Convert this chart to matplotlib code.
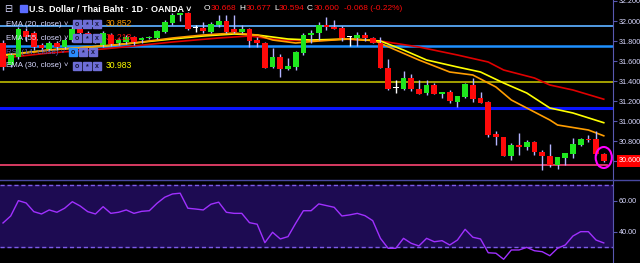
import matplotlib
matplotlib.use('Agg')
import matplotlib.pyplot as plt
from matplotlib.patches import Rectangle, Ellipse
from matplotlib.lines import Line2D
import numpy as np

plt.rcParams['font.family'] = ['Liberation Sans', 'DejaVu Sans']

# USD/THB daily candles
opens = [31.78, 31.56, 31.64, 31.90, 31.88, 31.76, 31.72, 31.78, 31.74, 31.81,
         31.92, 31.88, 31.84, 31.76, 31.86, 31.78, 31.79, 31.84, 31.81, 31.83,
         31.83, 31.89, 31.98, 32.06, 32.08, 31.93, 31.93, 31.89, 31.96, 32.00,
         31.92, 31.89, 31.92, 31.81, 31.78, 31.54, 31.64, 31.52, 31.54, 31.68,
         31.86, 31.88, 31.96, 31.94, 31.93, 31.84, 31.83, 31.86, 31.83, 31.78,
         31.53, 31.33, 31.32, 31.43, 31.32, 31.28, 31.36, 31.27, 31.29, 31.19,
         31.24, 31.36, 31.23, 31.19, 30.87, 30.84, 30.65, 30.76, 30.74, 30.79,
         30.69, 30.65, 30.56, 30.63, 30.67, 30.76, 30.82, 30.82, 30.668]
highs = [31.81, 31.68, 31.94, 31.93, 31.90, 31.78, 31.80, 31.80, 31.83, 31.95,
         31.94, 31.90, 31.86, 31.90, 31.88, 31.83, 31.86, 31.85, 31.84, 31.85,
         31.91, 32.01, 32.08, 32.08, 32.09, 31.96, 31.99, 31.99, 32.06, 32.06,
         32.06, 31.96, 31.93, 31.84, 31.79, 31.73, 31.67, 31.63, 31.70, 31.88,
         31.91, 31.99, 32.04, 32.01, 31.95, 31.85, 31.89, 31.89, 31.84, 31.84,
         31.62, 31.41, 31.50, 31.47, 31.41, 31.41, 31.38, 31.29, 31.31, 31.25,
         31.38, 31.43, 31.29, 31.20, 30.90, 30.84, 30.78, 30.88, 30.81, 30.80,
         30.71, 30.77, 30.64, 30.68, 30.83, 30.83, 30.86, 30.90, 30.677]
lows = [31.51, 31.54, 31.62, 31.80, 31.71, 31.70, 31.70, 31.71, 31.72, 31.79,
        31.85, 31.82, 31.78, 31.74, 31.75, 31.76, 31.77, 31.76, 31.78, 31.82,
        31.82, 31.88, 31.96, 32.00, 31.91, 31.89, 31.88, 31.88, 31.94, 31.88,
        31.88, 31.88, 31.74, 31.74, 31.53, 31.53, 31.44, 31.51, 31.51, 31.66,
        31.78, 31.81, 31.91, 31.92, 31.80, 31.75, 31.75, 31.80, 31.78, 31.53,
        31.31, 31.28, 31.31, 31.30, 31.27, 31.26, 31.27, 31.23, 31.18, 31.14,
        31.23, 31.19, 31.18, 30.84, 30.76, 30.65, 30.61, 30.66, 30.71, 30.66,
        30.51, 30.54, 30.52, 30.56, 30.63, 30.75, 30.79, 30.66, 30.594]
closes = [31.54, 31.66, 31.92, 31.84, 31.74, 31.73, 31.78, 31.74, 31.81, 31.92,
          31.88, 31.84, 31.80, 31.88, 31.77, 31.81, 31.84, 31.79, 31.83, 31.84,
          31.90, 31.99, 32.06, 32.08, 31.92, 31.93, 31.90, 31.97, 32.00, 31.89,
          31.89, 31.92, 31.80, 31.78, 31.53, 31.64, 31.52, 31.55, 31.69, 31.86,
          31.88, 31.96, 31.94, 31.92, 31.83, 31.84, 31.86, 31.83, 31.78, 31.53,
          31.32, 31.33, 31.43, 31.32, 31.27, 31.36, 31.27, 31.29, 31.20, 31.25,
          31.37, 31.22, 31.18, 30.86, 30.84, 30.65, 30.76, 30.74, 30.79, 30.69,
          30.65, 30.56, 30.64, 30.68, 30.77, 30.82, 30.81, 30.67, 30.600]

# EMA lines, sampled at candle index
ema20_idx = [0, 6, 13, 17, 22, 26, 30, 33, 35, 38, 41, 45, 48, 51, 54, 58, 61, 64, 66, 68, 71, 72, 76, 78]
ema20 = [31.65, 31.71, 31.75, 31.78, 31.83, 31.86, 31.88, 31.86, 31.81, 31.78, 31.80, 31.82,
         31.81, 31.71, 31.61, 31.49, 31.46, 31.34, 31.21, 31.13, 31.01, 30.96, 30.91, 30.852]
ema30_idx = [0, 6, 13, 17, 22, 26, 30, 33, 37, 40, 45, 49, 52, 55, 59, 62, 65, 68, 71, 74, 78]
ema30 = [31.66, 31.71, 31.75, 31.78, 31.82, 31.85, 31.87, 31.86, 31.82, 31.81, 31.82,
         31.80, 31.71, 31.61, 31.54, 31.49, 31.38, 31.28, 31.13, 31.08, 30.983]
ema55_idx = [0, 6, 13, 17, 22, 28, 32, 36, 40, 44, 49, 54, 59, 63, 65, 69, 71, 74, 78]
ema55 = [31.63, 31.68, 31.72, 31.75, 31.79, 31.83, 31.85, 31.81, 31.80, 31.82, 31.80,
         31.74, 31.66, 31.59, 31.51, 31.43, 31.36, 31.31, 31.218]

# RSI(14)
rsi = [45.8, 50.3, 60.2, 58.7, 53.1, 51.6, 54.2, 52.7, 55.3, 59.5,
       56.8, 53.1, 51.6, 56.3, 52.0, 52.7, 54.2, 52.0, 53.3, 53.7,
       58.5, 62.4, 64.5, 65.0, 55.3, 54.8, 54.2, 57.9, 59.2, 52.7,
       52.0, 52.0, 46.0, 45.0, 33.1, 39.8, 35.5, 37.0, 45.6, 53.7,
       53.7, 58.1, 57.0, 55.9, 50.3, 51.0, 52.0, 50.5, 47.3, 35.9,
       29.5, 29.5, 35.9, 32.7, 31.0, 35.9, 33.7, 34.4, 31.6, 34.8,
       41.7, 36.6, 35.5, 26.6, 26.3, 22.4, 28.4, 28.4, 30.1, 27.9,
       27.3, 24.7, 29.5, 31.6, 37.4, 40.2, 40.2, 34.8, 32.94]

# drawn horizontal levels
levels = [31.95, 31.755, 31.39, 31.13, 30.565]
level_colors = ['#58a8f5', '#1e90ff', '#b0ac00', '#0a14ff', '#e8406a']
level_widths = [1.3, 1.8, 1.3, 2.2, 1.3]

price_ticks = [30.6, 30.8, 31.0, 31.2, 31.4, 31.6, 31.8, 32.0, 32.2]
rsi_ticks = [40, 60]

GREEN = '#1ee61e'
RED = '#ff0a0a'
WICK = '#b4b4ff'
AXC = '#5858b0'
LBL = '#d8d8ff'

W, H = 640, 263
fig = plt.figure(figsize=(W / 100, H / 100), dpi=100, facecolor='black')


def fx(x):
    return x / W


def fy(y):
    return 1 - y / H


ax = fig.add_axes([0, fy(180), fx(613), 180 / H])
rx = fig.add_axes([0, 0, fx(613), 83 / H])
for a in (ax, rx):
    a.set_facecolor('black')
    for s in ('top', 'left', 'bottom'):
        a.spines[s].set_visible(False)
    a.spines['right'].set_color(AXC)
    a.yaxis.tick_right()
    a.tick_params(axis='y', colors=AXC, labelcolor=LBL, length=3, width=0.8, pad=1, labelsize=5.2)
    a.tick_params(axis='x', bottom=False, labelbottom=False)
    a.set_xlim(-0.39, 79.2)

# price panel
o, h, l, c = map(np.array, (opens, highs, lows, closes))
x = np.arange(len(o))
flat = np.isclose(o, c)
col = np.where(flat, 'white', np.where(c > o, GREEN, RED))
wcol = np.where(flat, 'white', WICK)

for lev, lc, lw in zip(levels, level_colors, level_widths):
    xmax = 0.99 if lev == levels[-1] else 1
    ax.axhline(lev, color=lc, lw=lw, xmax=xmax, zorder=1)

ax.plot(ema55_idx, ema55, color='#e00000', lw=1.2, zorder=2)
ax.plot(ema30_idx, ema30, color='#ffff00', lw=1.2, zorder=2)
ax.plot(ema20_idx, ema20, color='#ff9d00', lw=1.2, zorder=2)

ax.vlines(x, l, h, colors=wcol, lw=1, zorder=3)
body = np.maximum(np.abs(c - o), 0.008)
ax.bar(x, body, bottom=np.minimum(o, c), width=0.74, color=col, linewidth=0, zorder=4)

ax.add_patch(Ellipse((78, 30.635), 2.1, 0.21, fill=False, edgecolor='#ff00ff', lw=1.5, zorder=5))

ax.set_ylim(30.41, 32.21)
ax.set_yticks(price_ticks)
ax.set_yticklabels(['%.3f' % t for t in price_ticks])
ax.text(1.01, closes[-1], '%.3f' % closes[-1], transform=ax.get_yaxis_transform(),
        color='white', fontsize=5.2, va='center', ha='left', zorder=10,
        bbox=dict(facecolor='#ff0000', edgecolor='none', pad=1.6))

# RSI panel
rx.axhspan(30, 70, color='#1d0b52', zorder=0)
rx.axhline(70, color='#7d5ce8', lw=1, ls=(0, (3, 2)), zorder=1)
rx.axhline(30, color='#7d5ce8', lw=1, ls=(0, (3, 2)), zorder=1)
rx.plot(x, rsi, color='#a030ff', lw=1, zorder=2)
rx.set_ylim(20, 73.5)
rx.set_yticks(rsi_ticks)
rx.set_yticklabels(['%.2f' % t for t in rsi_ticks])

fig.add_artist(Line2D([0, 1], [fy(180), fy(180)], color='#4848a0', lw=1, transform=fig.transFigure))

# header
fig.text(fx(4), fy(9), '⊟', color=LBL, fontsize=7, va='center', family='DejaVu Sans')
fig.add_artist(Rectangle((fx(20), fy(12)), fx(7), 7 / H, color='#5b6cff', transform=fig.transFigure))
fig.text(fx(29), fy(9), 'U.S. Dollar / Thai Baht · 1D · OANDA ˅', color='white',
         fontsize=6.5, va='center', fontweight='bold')
ohlc = [(204, 'O', 'white'), (211, '30.668', RED), (239, 'H', 'white'), (246, '30.677', RED),
        (274, 'L', 'white'), (279, '30.594', RED), (307, 'C', 'white'), (314, '30.600', RED),
        (344, '-0.068 (-0.22%)', RED)]
for px, s, cc in ohlc:
    fig.text(fx(px), fy(9), s, color=cc, fontsize=6, va='center')


def icons(x0, y, first='#6e6ed6'):
    for k, g in enumerate(['o', '*', 'x']):
        fc = first if k == 0 else '#6e6ed6'
        fig.add_artist(Rectangle((fx(x0 + 10 * k), fy(y + 4)), fx(8), 8 / H,
                                 color=fc, transform=fig.transFigure, zorder=20))
        fig.text(fx(x0 + 10 * k + 4), fy(y + 0.5), g, color='#16163a', fontsize=5, ha='center',
                 va='center', fontweight='bold', zorder=21)


legend = [(24, 'EMA (20, close) ˅', LBL, '30.852', '#ff9d00', 73),
          (38, 'EMA (55, close) ˅', LBL, '31.218', '#ff1010', 73),
          (52, 'RSI (14, close) ˅', '#5a5ab0', '', None, 69),
          (66, 'EMA (30, close) ˅', LBL, '30.983', '#ffff00', 73)]
for y, s, tc, v, vc, ix in legend:
    fig.text(fx(6), fy(y), s, color=tc, fontsize=5.7, va='center', zorder=20)
    icons(ix, y, '#2a8cff' if not v else '#6e6ed6')
    if v:
        fig.text(fx(106), fy(y), v, color=vc, fontsize=6.2, va='center', zorder=20)

fig.savefig('out.png', dpi=100, facecolor='black')
